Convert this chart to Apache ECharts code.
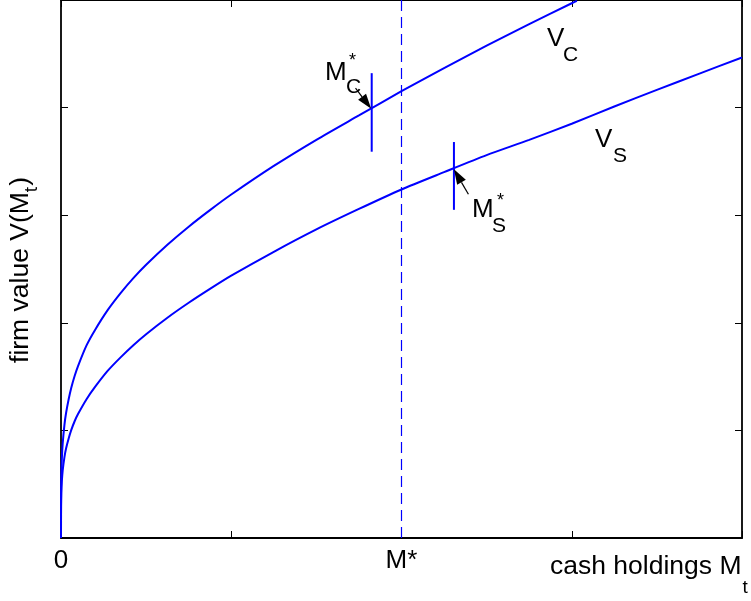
<!DOCTYPE html>
<html><head><meta charset="utf-8">
<script src="https://cdn.jsdelivr.net/npm/echarts@6/dist/echarts.min.js"></script>
<style>html,body{margin:0;padding:0;background:#fff}#c{width:751px;height:601px}</style>
</head><body><div id="c"></div>
<script>
// ---- data (in axis units) ----
const cashC  = [0, 0.0005, 0.002, 0.005, 0.01, 0.02, 0.03, 0.045, 0.06, 0.08, 0.1, 0.15, 0.2, 0.275, 0.35, 0.425, 0.5, 0.625, 0.75, 0.875, 1, 1.25, 1.5, 1.75, 2, 2.25, 2.5, 2.75, 3.0, 3.03];
const valueC = [0, 0.41, 0.586, 0.74, 0.878, 1.05, 1.164, 1.29, 1.394, 1.505, 1.598, 1.79, 1.934, 2.12, 2.276, 2.415, 2.539, 2.725, 2.893, 3.047, 3.192, 3.458, 3.701, 3.927, 4.152, 4.367, 4.575, 4.775, 4.97, 4.993];
const cashS  = [0, 0.0005, 0.002, 0.005, 0.01, 0.02, 0.03, 0.045, 0.06, 0.08, 0.1, 0.15, 0.2, 0.275, 0.35, 0.425, 0.5, 0.625, 0.75, 0.875, 1, 1.25, 1.5, 1.75, 2, 2.25, 2.5, 2.75, 3, 3.25, 3.5, 3.75, 4];
const valueS = [0, 0.295, 0.418, 0.527, 0.628, 0.75, 0.834, 0.925, 1.002, 1.085, 1.152, 1.29, 1.404, 1.555, 1.679, 1.792, 1.894, 2.047, 2.186, 2.315, 2.438, 2.66, 2.868, 3.058, 3.239, 3.40, 3.558, 3.70, 3.85, 4.01, 4.165, 4.316, 4.466];
const xTickLabels = ['0', '', 'M*', '', ''];
const mStar = 2;                       // dashed line position
const optimumC = [1.825, 3.59, 4.32];  // x, lower end, upper end of M_C* bar
const optimumS = [2.308, 3.05, 3.68];  // x, lower end, upper end of M_S* bar
const arrowC = [[1.73, 4.18], [1.822, 3.99]];   // tail, tip
const arrowS = [[2.393, 3.195], [2.308, 3.426]];

const FONT = '"Liberation Sans", Arial, Helvetica, sans-serif';
const BLUE = '#0000ff';
const chart = echarts.init(document.getElementById('c'));

function axisX(pos, labels) {
  return {
    type: 'value', min: 0, max: 4, interval: 1, position: pos,
    axisLine: { show: true, onZero: false, lineStyle: { color: '#000', width: 1.8 } },
    axisTick: { show: true, inside: true, length: 7, lineStyle: { color: '#000', width: 1 } },
    splitLine: { show: false },
    axisLabel: labels ? {
      show: true, margin: 10, fontSize: 26, color: '#000', fontFamily: FONT,
      showMinLabel: true, showMaxLabel: true,
      formatter: v => xTickLabels[Math.round(v)] || ''
    } : { show: false }
  };
}
function axisY(pos) {
  return {
    type: 'value', min: 0, max: 5, interval: 1, position: pos,
    axisLine: { show: true, onZero: false, lineStyle: { color: '#000', width: 1.8 } },
    axisTick: { show: true, inside: true, length: 7, lineStyle: { color: '#000', width: 1 } },
    splitLine: { show: false }, axisLabel: { show: false }
  };
}
const curve = (xs, ys) => ({
  type: 'line', data: xs.map((x, i) => [x, ys[i]]), showSymbol: false, clip: true,
  smooth: 0.25, lineStyle: { color: BLUE, width: 2 }, z: 3
});

chart.setOption({
  animation: false,
  grid: { left: 61, right: 9, top: -2, bottom: 63 },
  xAxis: [axisX('bottom', true), axisX('top', false)],
  yAxis: [axisY('left'), axisY('right')],
  series: [
    curve(cashC, valueC),
    curve(cashS, valueS),
    { type: 'line', data: [[mStar, 0], [mStar, 5]], showSymbol: false,
      lineStyle: { color: BLUE, width: 1.2, type: [11, 6] }, z: 2 },
    { type: 'line', data: [[optimumC[0], optimumC[1]], [optimumC[0], optimumC[2]]], showSymbol: false,
      lineStyle: { color: BLUE, width: 2 }, z: 3 },
    { type: 'line', data: [[optimumS[0], optimumS[1]], [optimumS[0], optimumS[2]]], showSymbol: false,
      lineStyle: { color: BLUE, width: 2 }, z: 3 }
  ]
});

// ---- annotations ----
const P = d => chart.convertToPixel({ gridIndex: 0 }, d);
const ctx = document.createElement('canvas').getContext('2d');
function tw(t, size) { ctx.font = size + 'px ' + FONT; return ctx.measureText(t).width; }
function txt(t, x, y, size, extra) {
  return Object.assign({ type: 'text', x: x, y: y, z: 100,
    style: { text: t, fontSize: size, fontFamily: FONT, fill: '#000', align: 'left', verticalAlign: 'middle' } }, extra || {});
}
function arrow(a) {
  const t = P(a[0]), h = P(a[1]);
  const dx = h[0] - t[0], dy = h[1] - t[1], L = Math.hypot(dx, dy);
  const ux = dx / L, uy = dy / L, hl = 15, hw = 5;
  const bx = h[0] - ux * hl, by = h[1] - uy * hl;
  return [
    { type: 'line', z: 100, shape: { x1: t[0], y1: t[1], x2: bx, y2: by }, style: { stroke: '#000', lineWidth: 1.2 } },
    { type: 'polygon', z: 100, shape: { points: [[h[0], h[1]], [bx - uy * hw, by + ux * hw], [bx + uy * hw, by - ux * hw]] },
      style: { fill: '#000' } }
  ];
}
const labels = [
  { t: 'V', d: [2.855, 4.639], s: 26 }, { t: 'C', d: [2.949, 4.486], s: 21 },
  { t: 'V', d: [3.137, 3.704], s: 26 }, { t: 'S', d: [3.242, 3.551], s: 21 },
  { t: 'M', d: [1.551, 4.324], s: 26 }, { t: 'C', d: [1.674, 4.194], s: 21 }, { t: '*', d: [1.692, 4.435], s: 18 },
  { t: 'M', d: [2.414, 3.046], s: 26 }, { t: 'S', d: [2.532, 2.898], s: 21 }, { t: '*', d: [2.561, 3.130], s: 18 }
];
const g = [];
labels.forEach(l => { const p = P(l.d); g.push(txt(l.t, p[0], p[1], l.s)); });
arrow(arrowC).forEach(e => g.push(e));
arrow(arrowS).forEach(e => g.push(e));

// x-axis title
const xName = 'cash holdings M';
g.push(txt(xName, 550, 567, 26.5));
g.push(txt('t', 550 + tw(xName, 26.5) + 1, 588, 19));

// y-axis title (rotated)
const yMain = 'firm value V(M', yEnd = ')';
const wMain = tw(yMain, 26.5), wSub = tw('t', 19), wEnd = tw(yEnd, 26.5);
const total = wMain + wSub + 1 + wEnd;
const x0 = -total / 2;
g.push({ type: 'group', x: 21, y: 270, rotation: Math.PI / 2, children: [
  txt(yMain, x0, 0, 26.5),
  txt('t', x0 + wMain, 11, 19),
  txt(yEnd, x0 + wMain + wSub + 1, 0, 26.5)
]});

chart.setOption({ graphic: g });
</script></body></html>
